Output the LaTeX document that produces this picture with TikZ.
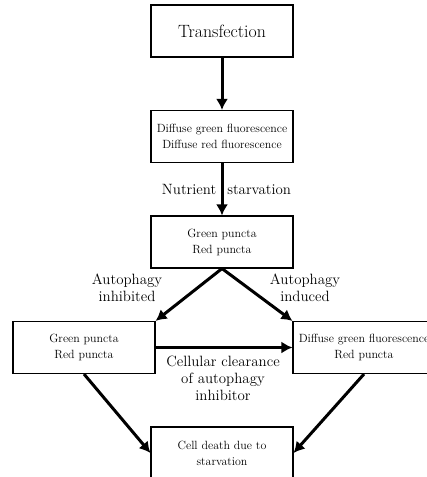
\documentclass[tikz,border=0pt]{standalone}
\usetikzlibrary{arrows.meta}
\tikzset{
  box/.style={draw, line width=1.1pt, minimum width=142pt, minimum height=52pt, inner sep=0pt,
    align=center, font=\fontsize{11.9}{16}\selectfont},
  lab/.style={align=center, inner sep=0pt, font=\fontsize{14.9}{16.8}\selectfont},
  arr/.style={line width=3pt, -{Latex[length=11pt,width=12pt]}}
}
\begin{document}
\begin{tikzpicture}[x=1pt,y=-1pt]
\useasboundingbox (0,0) rectangle (427,477);
\node[box, font=\fontsize{17.8}{21}\selectfont] (t) at (222,31) {Transfection};
\node[box] (d) at (222,136.5) {Diffuse green fluorescence\\Diffuse red fluorescence};
\node[box] (g) at (222,242) {Green puncta\\Red puncta};
\node[box] (l) at (84,347.5) {Green puncta\\Red puncta};
\node[box] (r) at (364,347.5) {Diffuse green fluorescence\\Red puncta};
\node[box] (c) at (222,453) {Cell death due to\\starvation};

\node[lab] (ns) at (226.5,189) {Nutrient\hspace{11pt}starvation};
\node[lab] (ai) at (127,287.5) {Autophagy\\inhibited};
\node[lab] (an) at (305,287.5) {Autophagy\\induced};
\node[lab] (cc) at (223,378.5) {Cellular clearance\\of autophagy\\inhibitor};

\draw[arr] (t) -- (d);
\draw[arr] (d) -- (g);
\draw[arr] (g.south) -- (l.north east);
\draw[arr] (g.south) -- (r.north west);
\draw[arr] (l) -- (r);
\draw[arr] (l.south) -- (c.west);
\draw[arr] (r.south) -- (c.east);
\end{tikzpicture}
\end{document}
